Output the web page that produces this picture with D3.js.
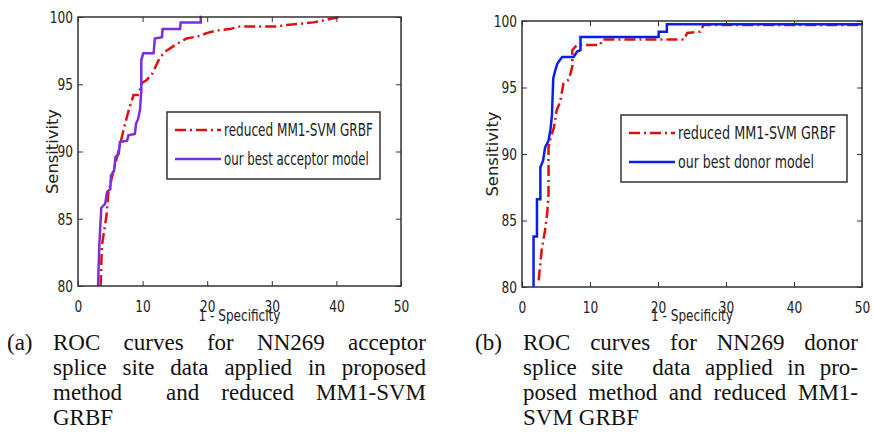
<!DOCTYPE html>
<html>
<head>
<meta charset="utf-8">
<script src="https://cdn.jsdelivr.net/npm/d3@7"></script>
<style>
  body { margin: 0; background: #fff; }
  svg text { fill: #222; }
  .tick-label { font-family: "DejaVu Sans", sans-serif; font-size: 16.5px; }
  .axis-title { font-family: "DejaVu Sans", sans-serif; font-size: 15px; }
  .legend-text { font-family: "DejaVu Sans", sans-serif; font-size: 17px; }
  .caption { font-family: "Liberation Serif", "Times New Roman", serif; font-size: 23px; fill: #111; }
</style>
</head>
<body>
<svg id="chart" width="873" height="433"></svg>
<script>
// ---- data ----
const xTicks = [0, 10, 20, 30, 40, 50];
const yTicks = [80, 85, 90, 95, 100];

// (a) acceptor
const acceptorRed = [[3.5,80],[3.7,83],[4.4,85.2],[4.7,86.9],[5.5,88.6],[6.2,89.9],[6.8,91.1],[7.3,92.1],
  [8.0,93.3],[8.6,94.2],[9.3,94.2],[9.9,95.1],[10.6,95.3],[11.4,95.7],[12.2,96.5],[12.7,97.0],[13.7,97.5],
  [15.3,98.0],[16.8,98.4],[18.9,98.6],[19.9,98.8],[21.5,99.0],[23.5,99.1],[25.1,99.3],[28.2,99.3],[30.8,99.3],
  [32.3,99.4],[34.4,99.5],[36.4,99.6],[38,99.75],[39.5,99.9],[40.6,100]];
const acceptorBest = [[3.1,80],[3.3,83],[3.6,85.8],[4.2,86.1],[4.5,87],[5.0,87.2],[5.1,88.2],[5.6,88.6],
  [5.8,89.6],[6.3,89.8],[6.5,90.7],[7.6,90.8],[7.8,91.2],[8.8,91.3],[9.0,92.1],[9.3,92.4],[9.6,93.1],
  [9.8,94.5],[9.8,96.8],[10.1,97.3],[11.7,97.3],[11.9,98.4],[13.0,98.5],[13.1,99.1],[15.8,99.1],
  [15.9,99.6],[19.0,99.6],[19.0,100],[19.2,100]];

// (b) donor
const donorRed = [[2.45,80.5],[2.9,82.8],[3.4,84.3],[3.7,85.5],[3.9,87.0],[3.9,90.5],[4.2,91.2],[4.7,92.0],
  [5.1,93.3],[5.6,93.9],[6.1,95.3],[6.9,95.6],[7.4,96.6],[7.4,97.8],[8.1,98.2],[11.5,98.2],[11.8,98.6],
  [23.8,98.6],[24.3,99.1],[26.2,99.2],[26.7,99.7],[50,99.7]];
const donorBest = [[1.7,80],[1.7,83.8],[2.2,83.8],[2.2,86.6],[2.7,86.6],[2.7,89.0],[3.1,89.5],[3.4,90.5],
  [3.9,91.0],[4.2,91.9],[4.4,92.9],[4.6,95.7],[4.9,96.3],[5.2,96.8],[5.9,97.3],[7.6,97.3],[8.1,97.7],
  [8.6,97.8],[8.6,98.8],[20.1,98.8],[20.1,99.2],[21.3,99.2],[21.3,99.75],[50,99.75]];

const legendA = ["reduced MM1-SVM GRBF", "our best acceptor model"];
const legendB = ["reduced MM1-SVM GRBF", "our best donor model"];

const captionA = ["ROC curves for NN269 acceptor", "splice site data applied in proposed", "method  and reduced MM1-SVM", "GRBF"];
const captionB = ["ROC curves for NN269 donor", "splice site  data applied in pro-", "posed method and reduced MM1-", "SVM GRBF"];

const svg = d3.select("#chart");
const narrow = 0.74; // the tick font in the picture is a narrow one

function drawPanel(cfg) {
    const x = d3.scaleLinear().domain([0, 50]).range([cfg.left, cfg.right]);
    const y = d3.scaleLinear().domain([80, 100]).range([cfg.bottom, cfg.top]);
    const g = svg.append("g");

    const line = d3.line().x(d => x(d[0])).y(d => y(d[1]));

    // curves
    g.append("path")
        .datum(cfg.red)
        .attr("d", line)
        .attr("fill", "none")
        .attr("stroke", "#dd1010")
        .attr("stroke-width", 2.5)
        .attr("stroke-dasharray", "11,4,2,4");
    g.append("path")
        .datum(cfg.best)
        .attr("d", line)
        .attr("fill", "none")
        .attr("stroke", cfg.bestColor)
        .attr("stroke-width", 2.5);

    // box + inward ticks
    g.append("rect")
        .attr("x", cfg.left).attr("y", cfg.top)
        .attr("width", cfg.right - cfg.left).attr("height", cfg.bottom - cfg.top)
        .attr("fill", "none").attr("stroke", "#333").attr("stroke-width", 1.5);

    const xAxis = d3.axisBottom(x).tickValues(xTicks).tickSize(-5).tickSizeOuter(0).tickPadding(0);
    const xg = g.append("g").attr("transform", `translate(0,${cfg.bottom})`).call(xAxis);
    xg.select(".domain").remove();
    xg.selectAll("line").attr("stroke", "#333");
    xg.selectAll("text").attr("class", "tick-label").attr("y", 26).attr("dy", null)
        .attr("transform", `scale(${narrow},1)`).attr("fill", "#222");

    const xTop = d3.axisTop(x).tickValues(xTicks).tickSize(-5).tickFormat("");
    const xtg = g.append("g").attr("transform", `translate(0,${cfg.top})`).call(xTop);
    xtg.select(".domain").remove();
    xtg.selectAll("line").attr("stroke", "#333");

    const yAxis = d3.axisLeft(y).tickValues(yTicks).tickSize(-5).tickSizeOuter(0).tickPadding(0);
    const yg = g.append("g").attr("transform", `translate(${cfg.left},0)`).call(yAxis);
    yg.select(".domain").remove();
    yg.selectAll("line").attr("stroke", "#333");
    yg.selectAll("text").attr("class", "tick-label").attr("x", -5 / narrow)
        .attr("transform", `scale(${narrow},1)`).attr("fill", "#222");

    const yRight = d3.axisRight(y).tickValues(yTicks).tickSize(-5).tickFormat("");
    const yrg = g.append("g").attr("transform", `translate(${cfg.right},0)`).call(yRight);
    yrg.select(".domain").remove();
    yrg.selectAll("line").attr("stroke", "#333");

    // axis titles
    g.append("text")
        .attr("class", "axis-title")
        .attr("transform", `translate(${cfg.ylabX},${(cfg.top + cfg.bottom) / 2}) rotate(-90)`)
        .attr("dy", "0.35em")
        .attr("text-anchor", "middle")
        .attr("textLength", 85).attr("lengthAdjust", "spacingAndGlyphs")
        .text("Sensitivity");
    g.append("text")
        .attr("class", "axis-title")
        .attr("x", x(25) - 41)
        .attr("y", 321)
        .attr("textLength", 82).attr("lengthAdjust", "spacingAndGlyphs")
        .text("1 - Specificity");

    // legend
    const lg = g.append("g").attr("transform", `translate(${cfg.legX},${cfg.legY})`);
    lg.append("rect")
        .attr("width", cfg.legW).attr("height", 67)
        .attr("fill", "#fff").attr("stroke", "#333").attr("stroke-width", 1.5);
    const rows = [
        { label: cfg.legend[0], color: "#dd1010", dash: "11,4,2,4", len: cfg.legLen[0] },
        { label: cfg.legend[1], color: cfg.bestColor, dash: null, len: cfg.legLen[1] }
    ];
    rows.forEach((r, i) => {
        const ry = 18 + i * 29;
        lg.append("line")
            .attr("x1", 8).attr("x2", 54).attr("y1", ry).attr("y2", ry)
            .attr("stroke", r.color).attr("stroke-width", 2.5)
            .attr("stroke-dasharray", r.dash);
        // squeeze the label to the width it has in the picture
        const tg = lg.append("g");
        const t = tg.append("text")
            .attr("class", "legend-text")
            .attr("dy", "0.35em")
            .text(r.label);
        const k = r.len / t.node().getComputedTextLength();
        tg.attr("transform", `translate(57,${ry}) scale(${k},1)`);
    });

    // caption
    svg.append("text").attr("class", "caption")
        .attr("x", cfg.capLabelX).attr("y", 350).text(cfg.capLabel);
    cfg.caption.forEach((lineText, i) => {
        justify(lineText, cfg.capX, cfg.capRight, 350 + i * 25, i < cfg.caption.length - 1);
    });
}

function justify(lineText, x0, x1, baseline, full) {
    // words separated by spaces; an empty token adds weight to the gap before it
    const tokens = lineText.split(" ");
    const words = [], gaps = [];
    let w = 0;
    tokens.forEach(t => {
        if (t === "") { w += 1; return; }
        if (words.length) gaps.push(w);
        words.push(t);
        w = 1;
    });
    const nodes = words.map(t => svg.append("text").attr("class", "caption").attr("y", baseline).text(t));
    const widths = nodes.map(n => n.node().getComputedTextLength());
    const total = d3.sum(widths);
    const gapSum = d3.sum(gaps);
    const unit = full && gapSum > 0 ? (x1 - x0 - total) / gapSum : 6;
    let cx = x0;
    nodes.forEach((n, i) => {
        n.attr("x", cx);
        cx += widths[i] + (i < gaps.length ? gaps[i] * unit : 0);
    });
}

drawPanel({
    left: 78, right: 401, top: 17, bottom: 286,
    red: acceptorRed, best: acceptorBest, bestColor: "#7a2ee0",
    ylabX: 53, legX: 167, legY: 112, legW: 213, legend: legendA, legLen: [149, 145],
    capLabel: "(a)", capLabelX: 7, capX: 53, capRight: 426, caption: captionA
});
drawPanel({
    left: 522, right: 862, top: 21, bottom: 287,
    red: donorRed, best: donorBest, bestColor: "#0a1ee8",
    ylabX: 493, legX: 621, legY: 115, legW: 226, legend: legendB, legLen: [158, 136],
    capLabel: "(b)", capLabelX: 475, capX: 523, capRight: 858, caption: captionB
});
</script>
</body>
</html>
